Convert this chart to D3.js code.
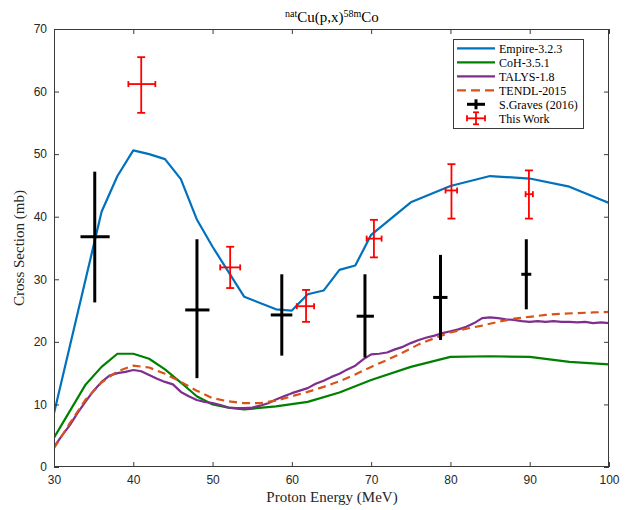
<!DOCTYPE html>
<html>
<head>
<meta charset="utf-8">
<script src="https://cdn.jsdelivr.net/npm/d3@7"></script>
<style>
  html, body { margin: 0; padding: 0; background: #fff; }
  svg { display: block; }
</style>
</head>
<body>
<svg id="chart" width="632" height="510"></svg>
<script>
// ---------- data ----------
const empireE  = [30,36,38,40,42,44,46,48,50,54,58,60,62,64,66,68,70,75,80,85,90,95,100];
const empireXS = [8.6,40.8,46.5,50.6,50.0,49.2,46.0,39.6,35.2,27.2,25.2,25.0,27.6,28.2,31.5,32.2,37.1,42.3,44.9,46.5,46.1,44.8,42.2];

const cohE  = [30,34,36,38,40,42,44,46,48,50,52,54,58,62,66,70,75,80,85,90,95,100];
const cohXS = [4.7,13.2,16.0,18.1,18.1,17.3,15.6,13.5,11.3,10.0,9.5,9.2,9.7,10.4,11.9,13.9,16.0,17.6,17.7,17.6,16.8,16.4];

const talysE  = [30,31,32,33,34,35,36,37,38,39,40,41,42,43,44,45,46,47,48,49,50,51,52,53,54,55,56,57,58,59,60,61,62,63,64,65,66,67,68,69,70,71,72,73,74,75,76,77,78,79,80,81,82,83,84,85,86,87,88,89,90,91,92,93,94,95,96,97,98,99,100];
const talysXS = [3.2,5.0,6.7,8.7,10.5,12.2,13.6,14.6,15.0,15.2,15.5,15.3,14.7,14.1,13.6,13.2,12.0,11.3,10.7,10.4,10.2,9.9,9.5,9.4,9.4,9.5,9.8,10.2,10.8,11.3,11.8,12.2,12.6,13.3,13.8,14.4,14.9,15.6,16.2,17.2,18.0,18.1,18.3,18.8,19.2,19.8,20.3,20.7,21.0,21.4,21.7,22.0,22.4,23.0,23.8,23.9,23.8,23.6,23.5,23.3,23.2,23.3,23.2,23.3,23.2,23.2,23.1,23.2,23.0,23.1,23.0];

const tendlE  = [30,32,34,36,38,40,42,44,46,48,50,52,54,56,58,60,62,64,66,68,70,72,74,76,78,80,82,84,86,88,90,92,94,96,98,100];
const tendlXS = [3.0,7.0,10.8,13.5,15.3,16.2,15.9,14.9,13.6,12.2,11.0,10.5,10.2,10.2,10.6,11.3,12.0,12.8,13.7,14.8,16.0,17.1,18.3,19.6,20.6,21.5,22.1,22.6,23.2,23.7,24.0,24.3,24.5,24.6,24.7,24.8];

// S.Graves (2016)
const gravesE      = [35.14,48.03,58.73,69.22,78.75,89.57];
const gravesELow   = [33.34,46.55,57.34,68.17,77.82,88.94];
const gravesEHigh  = [37.02,49.61,60.06,70.35,79.63,90.20];
const gravesXS     = [36.8,25.1,24.3,24.1,27.1,30.8];
const gravesXSLow  = [26.3,14.2,17.8,17.5,20.3,25.2];
const gravesXSHigh = [47.2,36.4,30.8,30.8,33.9,36.4];

// This Work
const workE      = [41.0,52.22,61.79,70.35,80.13,89.90];
const workELow   = [39.38,50.96,60.62,69.43,79.38,89.48];
const workEHigh  = [42.78,53.48,62.80,71.32,80.84,90.40];
const workXS     = [61.2,31.9,25.7,36.5,44.2,43.6];
const workXSLow  = [56.6,28.6,23.2,33.5,39.7,39.7];
const workXSHigh = [65.5,35.2,28.3,39.5,48.4,47.4];

const xTicks = [30,40,50,60,70,80,90,100];
const yTicks = [0,10,20,30,40,50,60,70];

const legendLabels = ["Empire-3.2.3","CoH-3.5.1","TALYS-1.8","TENDL-2015","S.Graves (2016)","This Work"];

// ---------- layout ----------
const L = 54, R = 609, T = 29, B = 467;
const svg = d3.select("#chart");
const x = d3.scaleLinear().domain([30,100]).range([L,R]);
const y = d3.scaleLinear().domain([0,70]).range([B,T]);

const axisColor = "#3a3a3a";
const tickFont = "'Liberation Sans', Arial, Helvetica, sans-serif";
const serif = "'Liberation Serif', 'Times New Roman', serif";

const colors = {
  empire: "#0072BD",
  coh: "#008000",
  talys: "#7E2F8E",
  tendl: "#D95319",
  graves: "#000000",
  work: "#FF0000"
};

// clip
svg.append("defs").append("clipPath").attr("id","clip")
  .append("rect").attr("x",L).attr("y",T).attr("width",R-L).attr("height",B-T);

// ---------- lines ----------
const line = d3.line().x(d => x(d[0])).y(d => y(d[1]));
const plot = svg.append("g").attr("clip-path","url(#clip)");

function drawLine(E, XS, color, dash) {
  plot.append("path")
    .datum(E.map((e,i) => [e, XS[i]]))
    .attr("d", line)
    .attr("fill","none")
    .attr("stroke", color)
    .attr("stroke-width", 2.2)
    .attr("stroke-linejoin","round")
    .attr("stroke-dasharray", dash || null);
}
drawLine(empireE, empireXS, colors.empire);
drawLine(cohE, cohXS, colors.coh);
drawLine(talysE, talysXS, colors.talys);
drawLine(tendlE, tendlXS, colors.tendl, "8,5");

// ---------- error bars ----------
function drawErr(E, EL, EH, XS, XL, XH, color, width, cap) {
  const g = svg.append("g").attr("stroke", color).attr("stroke-width", width).attr("fill","none");
  E.forEach((e,i) => {
    g.append("line").attr("x1", x(e)).attr("x2", x(e)).attr("y1", y(XL[i])).attr("y2", y(XH[i]));
    g.append("line").attr("x1", x(EL[i])).attr("x2", x(EH[i])).attr("y1", y(XS[i])).attr("y2", y(XS[i]));
    if (cap) {
      g.append("line").attr("x1", x(e)-cap).attr("x2", x(e)+cap).attr("y1", y(XL[i])).attr("y2", y(XL[i]));
      g.append("line").attr("x1", x(e)-cap).attr("x2", x(e)+cap).attr("y1", y(XH[i])).attr("y2", y(XH[i]));
      g.append("line").attr("x1", x(EL[i])).attr("x2", x(EL[i])).attr("y1", y(XS[i])-cap*0.75).attr("y2", y(XS[i])+cap*0.75);
      g.append("line").attr("x1", x(EH[i])).attr("x2", x(EH[i])).attr("y1", y(XS[i])-cap*0.75).attr("y2", y(XS[i])+cap*0.75);
    }
  });
}
drawErr(gravesE, gravesELow, gravesEHigh, gravesXS, gravesXSLow, gravesXSHigh, colors.graves, 3, 0);
drawErr(workE, workELow, workEHigh, workXS, workXSLow, workXSHigh, colors.work, 1.8, 4);

// ---------- axes ----------
function styleAxis(g) {
  g.select(".domain").remove();
  g.selectAll(".tick line").attr("stroke", axisColor).attr("stroke-width", 1);
  g.selectAll(".tick text").attr("fill", "#262626").style("font-family", tickFont).style("font-size", "12px");
}
svg.append("g").attr("transform", `translate(0,${B})`)
  .call(d3.axisBottom(x).tickValues(xTicks).tickSizeInner(-5).tickSizeOuter(0).tickPadding(8))
  .call(styleAxis);
svg.append("g").attr("transform", `translate(0,${T})`)
  .call(d3.axisTop(x).tickValues(xTicks).tickSizeInner(-5).tickSizeOuter(0).tickFormat(""))
  .call(styleAxis);
svg.append("g").attr("transform", `translate(${L},0)`)
  .call(d3.axisLeft(y).tickValues(yTicks).tickSizeInner(-5).tickSizeOuter(0).tickPadding(7))
  .call(styleAxis);
svg.append("g").attr("transform", `translate(${R},0)`)
  .call(d3.axisRight(y).tickValues(yTicks).tickSizeInner(-5).tickSizeOuter(0).tickFormat(""))
  .call(styleAxis);

svg.append("rect").attr("x", L+0.5).attr("y", T+0.5).attr("width", R-L-1).attr("height", B-T-1)
  .attr("fill","none").attr("stroke", axisColor).attr("stroke-width", 1);

// ---------- title & labels ----------
const title = svg.append("text").attr("x", 332).attr("y", 22).attr("text-anchor","middle")
  .style("font-family", serif).style("font-size","15px").attr("fill","#000");
title.append("tspan").text("nat").style("font-size","10px").attr("dy", -5);
title.append("tspan").text("Cu(p,x)").attr("dy", 5);
title.append("tspan").text("58m").style("font-size","10px").attr("dy", -5);
title.append("tspan").text("Co").attr("dy", 5);

svg.append("text").attr("x", 332).attr("y", 502).attr("text-anchor","middle")
  .style("font-family", serif).style("font-size","15px").attr("fill","#262626")
  .text("Proton Energy (MeV)");

svg.append("text").attr("transform", "translate(24,248) rotate(-90)").attr("text-anchor","middle")
  .style("font-family", serif).style("font-size","15px").attr("fill","#262626")
  .text("Cross Section (mb)");

// ---------- legend ----------
const lg = svg.append("g");
lg.append("rect").attr("x", 453.5).attr("y", 39.5).attr("width", 130).attr("height", 89)
  .attr("fill","#fff").attr("stroke", axisColor).attr("stroke-width", 1);
const rowY = [48.3, 62.3, 76.3, 90.3, 104.3, 118.3];
const lineColors = [colors.empire, colors.coh, colors.talys, colors.tendl];
lineColors.forEach((c,i) => {
  lg.append("line").attr("x1", 457).attr("x2", 495).attr("y1", rowY[i]).attr("y2", rowY[i])
    .attr("stroke", c).attr("stroke-width", 2.2)
    .attr("stroke-dasharray", i === 3 ? "9,5" : null);
});
// graves marker
lg.append("line").attr("x1", 467).attr("x2", 485).attr("y1", rowY[4]).attr("y2", rowY[4]).attr("stroke","#000").attr("stroke-width",3);
lg.append("line").attr("x1", 476).attr("x2", 476).attr("y1", rowY[4]-5).attr("y2", rowY[4]+5).attr("stroke","#000").attr("stroke-width",3);
// work marker
const wg = lg.append("g").attr("stroke", colors.work).attr("stroke-width", 1.8);
const cx = 476, cy = rowY[5];
wg.append("line").attr("x1", cx-9).attr("x2", cx+9).attr("y1", cy).attr("y2", cy);
wg.append("line").attr("x1", cx).attr("x2", cx).attr("y1", cy-6).attr("y2", cy+6);
wg.append("line").attr("x1", cx-3).attr("x2", cx+3).attr("y1", cy-6).attr("y2", cy-6);
wg.append("line").attr("x1", cx-3).attr("x2", cx+3).attr("y1", cy+6).attr("y2", cy+6);
wg.append("line").attr("x1", cx-9).attr("x2", cx-9).attr("y1", cy-3).attr("y2", cy+3);
wg.append("line").attr("x1", cx+9).attr("x2", cx+9).attr("y1", cy-3).attr("y2", cy+3);

legendLabels.forEach((t,i) => {
  lg.append("text").attr("x", 499).attr("y", rowY[i]).attr("dy","0.35em")
    .style("font-family", serif).style("font-size","12px").attr("fill","#000").text(t);
});
</script>
</body>
</html>
